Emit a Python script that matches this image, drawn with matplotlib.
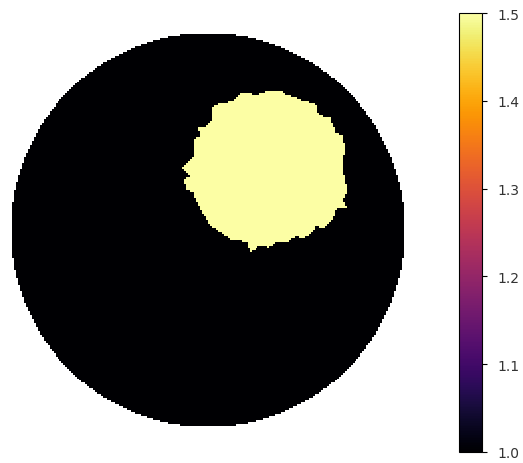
"""
Conductivity map: unit disk background with one ragged inclusion
"""

import numpy
import matplotlib
matplotlib.use("Agg")
import matplotlib.pyplot as plt
from matplotlib.path import Path

# background and inclusion conductivity
sigmaBackground = 1.0
sigmaInclusion = 1.5

# boundary of the inclusion (unit disk coordinates)
inclusionX = [0.162, 0.170, 0.246, 0.305, 0.380, 0.397, 0.465, 0.549, 0.557, 0.591,
              0.616, 0.633, 0.650, 0.683, 0.692, 0.683, 0.692, 0.709, 0.683, 0.700,
              0.650, 0.633, 0.599, 0.574, 0.549, 0.532, 0.481, 0.448, 0.397, 0.347,
              0.313, 0.263, 0.212, 0.195, 0.162, 0.111, 0.061, 0.010, -0.007, -0.032,
              -0.057, -0.074, -0.108, -0.125, -0.091, -0.133, -0.099, -0.066, -0.074, -0.040,
              -0.049, -0.007, 0.019, 0.019, 0.035, 0.128]
inclusionY = [0.687, 0.699, 0.682, 0.704, 0.704, 0.687, 0.662, 0.636, 0.594, 0.569,
              0.577, 0.535, 0.493, 0.476, 0.426, 0.325, 0.258, 0.190, 0.157, 0.114,
              0.106, 0.056, 0.022, 0.005, 0.022, -0.012, -0.045, -0.029, -0.062, -0.062,
              -0.088, -0.079, -0.113, -0.062, -0.054, -0.045, -0.012, 0.022, 0.056, 0.089,
              0.140, 0.190, 0.207, 0.258, 0.274, 0.317, 0.350, 0.375, 0.460, 0.476,
              0.519, 0.527, 0.561, 0.611, 0.636, 0.653]
cbarTicks = [1.0, 1.1, 1.2, 1.3, 1.4, 1.5]

n = 200
xs = numpy.linspace(-1, 1, n)
X, Y = numpy.meshgrid(xs, xs)
field = numpy.full(X.shape, numpy.nan)
field[X**2 + Y**2 <= 1.0] = sigmaBackground

path = Path(numpy.column_stack([inclusionX, inclusionY]))
inside = path.contains_points(numpy.column_stack([X.ravel(), Y.ravel()])).reshape(X.shape)
field[inside] = sigmaInclusion

fig = plt.figure(figsize=(5.23, 4.64), dpi=100)
ax = fig.add_axes([10/523, 35/464, 396/523, 396/464])
im = ax.imshow(field, extent=[-1, 1, -1, 1], origin="lower", cmap="inferno",
               vmin=1.0, vmax=1.5, interpolation="nearest")
ax.set_aspect("equal")
ax.axis("off")

cax = fig.add_axes([459/523, 11/464, 23/523, 439/464])
cb = fig.colorbar(im, cax=cax, ticks=cbarTicks)
cb.ax.set_yticklabels([str(t) for t in cbarTicks])
cb.ax.tick_params(pad=7.5, labelcolor="#333333")

fig.savefig("out.png", dpi=100)
